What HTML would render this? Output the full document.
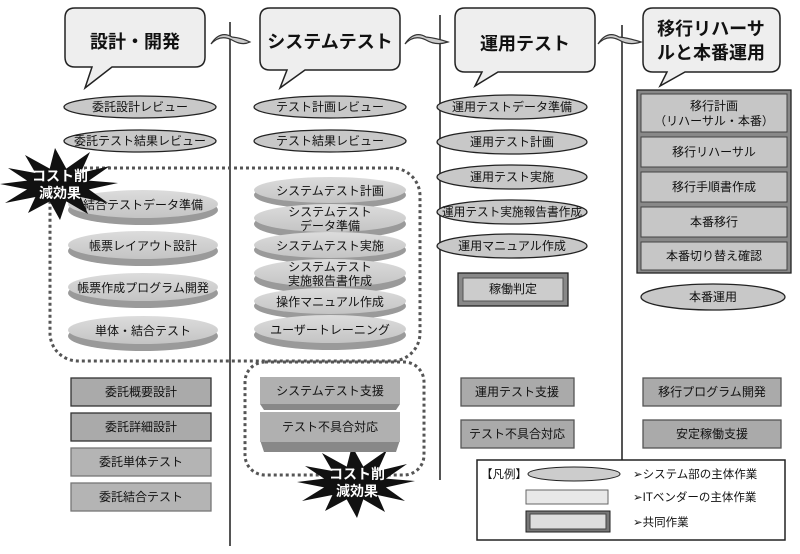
<!DOCTYPE html>
<html><head><meta charset="utf-8"><style>
body{margin:0;background:#fff}
svg{display:block}
text{font-family:"Liberation Sans","Noto Sans CJK JP",sans-serif;fill:#111;text-anchor:middle}
</style></head><body>
<svg width="800" height="554" viewBox="0 0 800 554" xmlns="http://www.w3.org/2000/svg">
<defs>
<linearGradient id="disk" x1="0" y1="0" x2="0" y2="1"><stop offset="0" stop-color="#dcdcdc"/><stop offset="1" stop-color="#c4c4c4"/></linearGradient>
<g id="star"><polygon fill="#111" points="118,183 88.9,189.4 108,203 80.6,197 88,214 66.3,201.4 60,220 49.7,201.4 28,213 35.4,197 5,203 27.1,189.4 0,184 27.1,180.6 8,168 35.4,173 25,155 49.7,168.6 55,148 66.3,168.6 90,152 80.6,173 110,166 88.9,180.6"/></g>
</defs>
<g stroke="#555" stroke-width="2">
<line x1="230" y1="22" x2="230" y2="546"/>
<line x1="440" y1="15" x2="440" y2="480"/>
<line x1="622" y1="25" x2="622" y2="480"/>
</g>
<g fill="#ccc" stroke="#333" stroke-width="1.2">
<path d="M211,44 Q220,34 232,40 Q242,46 250,42 Q242,38 232,37 Q220,30 211,44Z"/>
<path d="M405,44 Q414,34 426,40 Q436,46 448,42 Q436,38 426,37 Q414,30 405,44Z"/>
<path d="M598,44 Q607,34 619,40 Q629,46 641,42 Q629,38 619,37 Q607,30 598,44Z"/>
</g>
<g fill="#eee" stroke="#222" stroke-width="1.5">
<path d="M75,8 H195 Q205,8 205,18 V57 Q205,67 195,67 H112 L85,88 L92,67 H75 Q65,67 65,57 V18 Q65,8 75,8Z"/>
<path d="M270,8 H390 Q400,8 400,18 V60 Q400,70 390,70 H305 L280,88 L287,70 H270 Q260,70 260,60 V18 Q260,8 270,8Z"/>
<path d="M465,8 H585 Q595,8 595,18 V62 Q595,72 585,72 H498 L475,86 L482,72 H465 Q455,72 455,62 V18 Q455,8 465,8Z"/>
<path d="M653,8 H770 Q780,8 780,18 V62 Q780,72 770,72 H685 L660,86 L667,72 H653 Q643,72 643,62 V18 Q643,8 653,8Z"/>
</g>
<g font-size="18" font-weight="bold">
<text x="135" y="48">設計・開発</text>
<text x="330" y="48">システムテスト</text>
<text x="525" y="50">運用テスト</text>
<text x="711" y="35">移行リハーサ</text>
<text x="711" y="59">ルと本番運用</text>
</g>
<g fill="#c8c8c8" stroke="#222" stroke-width="1.3">
<ellipse cx="140" cy="107" rx="76" ry="11"/>
<ellipse cx="140" cy="141" rx="76" ry="11"/>
<ellipse cx="330" cy="107" rx="76" ry="11"/>
<ellipse cx="330" cy="141" rx="76" ry="11"/>
<ellipse cx="512" cy="107" rx="75" ry="12"/>
<ellipse cx="512" cy="142" rx="75" ry="12"/>
<ellipse cx="512" cy="177" rx="75" ry="12"/>
<ellipse cx="512" cy="212" rx="75" ry="12"/>
<ellipse cx="512" cy="246" rx="75" ry="12"/>
<ellipse cx="713" cy="297" rx="72" ry="13"/>
</g>
<g font-size="12">
<text x="140" y="111">委託設計レビュー</text>
<text x="140" y="145">委託テスト結果レビュー</text>
<text x="330" y="111">テスト計画レビュー</text>
<text x="330" y="145">テスト結果レビュー</text>
<text x="512" y="111">運用テストデータ準備</text>
<text x="512" y="146">運用テスト計画</text>
<text x="512" y="181">運用テスト実施</text>
<text x="512" y="216" textLength="140" lengthAdjust="spacingAndGlyphs">運用テスト実施報告書作成</text>
<text x="512" y="250">運用マニュアル作成</text>
<text x="713" y="301">本番運用</text>
</g>
<g fill="none" stroke="#555" stroke-width="3" stroke-dasharray="3,3">
<rect x="50" y="168" width="370" height="193" rx="28"/>
<rect x="245" y="362" width="179" height="113" rx="20"/>
</g>
<g>
<ellipse cx="143" cy="210" rx="75" ry="15" fill="#9a9a9a"/><ellipse cx="143" cy="204" rx="75" ry="14" fill="url(#disk)"/>
<ellipse cx="143" cy="251" rx="75" ry="15" fill="#9a9a9a"/><ellipse cx="143" cy="245" rx="75" ry="14" fill="url(#disk)"/>
<ellipse cx="143" cy="293" rx="75" ry="15" fill="#9a9a9a"/><ellipse cx="143" cy="287" rx="75" ry="14" fill="url(#disk)"/>
<ellipse cx="143" cy="336" rx="75" ry="15" fill="#9a9a9a"/><ellipse cx="143" cy="330" rx="75" ry="14" fill="url(#disk)"/>
</g>
<g>
<ellipse cx="330" cy="195" rx="76" ry="14" fill="#9a9a9a"/><ellipse cx="330" cy="190" rx="76" ry="13" fill="url(#disk)"/>
<ellipse cx="330" cy="224" rx="76" ry="15" fill="#9a9a9a"/><ellipse cx="330" cy="218" rx="76" ry="14" fill="url(#disk)"/>
<ellipse cx="330" cy="250" rx="76" ry="14" fill="#9a9a9a"/><ellipse cx="330" cy="245" rx="76" ry="13" fill="url(#disk)"/>
<ellipse cx="330" cy="279" rx="76" ry="15" fill="#9a9a9a"/><ellipse cx="330" cy="273" rx="76" ry="14" fill="url(#disk)"/>
<ellipse cx="330" cy="306" rx="76" ry="14" fill="#9a9a9a"/><ellipse cx="330" cy="301" rx="76" ry="13" fill="url(#disk)"/>
<ellipse cx="330" cy="335" rx="76" ry="15" fill="#9a9a9a"/><ellipse cx="330" cy="329" rx="76" ry="14" fill="url(#disk)"/>
</g>
<g font-size="12">
<text x="143" y="209">結合テストデータ準備</text>
<text x="143" y="250">帳票レイアウト設計</text>
<text x="143" y="292">帳票作成プログラム開発</text>
<text x="143" y="335">単体・結合テスト</text>
<text x="330" y="195">システムテスト計画</text>
<text x="330" y="216">システムテスト</text>
<text x="330" y="230">データ準備</text>
<text x="330" y="250">システムテスト実施</text>
<text x="330" y="271">システムテスト</text>
<text x="330" y="285">実施報告書作成</text>
<text x="330" y="306">操作マニュアル作成</text>
<text x="330" y="334">ユーザートレーニング</text>
</g>
<use href="#star"/>
<use href="#star" transform="translate(297,298)"/>
<g font-size="14" font-weight="bold">
<text x="60" y="181" style="fill:#fff">コスト削</text>
<text x="60" y="198" style="fill:#fff">減効果</text>
<text x="357" y="479" style="fill:#fff">コスト削</text>
<text x="357" y="496" style="fill:#fff">減効果</text>
</g>
<g stroke="#333" stroke-width="1.3">
<rect x="71" y="378" width="140" height="28" fill="#aaa"/>
<rect x="71" y="413" width="140" height="28" fill="#aaa"/>
<rect x="71" y="448" width="140" height="28" fill="#b4b4b4" stroke="#777"/>
<rect x="71" y="483" width="140" height="28" fill="#b4b4b4" stroke="#777"/>
<rect x="461" y="378" width="113" height="28" fill="#aaa" stroke="#555"/>
<rect x="461" y="420" width="113" height="28" fill="#aaa" stroke="#555"/>
<rect x="643" y="378" width="138" height="28" fill="#aaa" stroke="#555"/>
<rect x="643" y="420" width="138" height="28" fill="#aaa" stroke="#555"/>
</g>
<g>
<polygon points="260,377 400,377 400,404 396,410 264,410 260,404" fill="#888"/>
<rect x="260" y="377" width="140" height="27" fill="#b0b0b0"/>
<polygon points="260,412 400,412 400,440 396,452 264,452 260,440" fill="#888"/>
<rect x="260" y="412" width="140" height="30" fill="#b0b0b0"/>
</g>
<g stroke="#222" stroke-width="1.3">
<rect x="458" y="273" width="110" height="33" fill="#888"/>
<rect x="463" y="278" width="100" height="23" fill="#ccc" stroke="#555" stroke-width="1"/>
<rect x="637" y="90" width="154" height="183" fill="#888"/>
</g>
<g fill="#c6c6c6" stroke="#444" stroke-width="1">
<rect x="641" y="94" width="146" height="38"/>
<rect x="641" y="137" width="146" height="30"/>
<rect x="641" y="172" width="146" height="30"/>
<rect x="641" y="207" width="146" height="30"/>
<rect x="641" y="242" width="146" height="28"/>
</g>
<g font-size="12">
<text x="141" y="396">委託概要設計</text>
<text x="141" y="431">委託詳細設計</text>
<text x="141" y="466">委託単体テスト</text>
<text x="141" y="501">委託結合テスト</text>
<text x="330" y="395">システムテスト支援</text>
<text x="330" y="431">テスト不具合対応</text>
<text x="517" y="396">運用テスト支援</text>
<text x="517" y="438">テスト不具合対応</text>
<text x="712" y="396">移行プログラム開発</text>
<text x="712" y="438">安定稼働支援</text>
<text x="513" y="293">稼働判定</text>
<text x="714" y="110">移行計画</text>
<text x="714" y="125">（リハーサル・本番）</text>
<text x="714" y="156">移行リハーサル</text>
<text x="714" y="191">移行手順書作成</text>
<text x="714" y="226">本番移行</text>
<text x="714" y="260">本番切り替え確認</text>
</g>
<rect x="477" y="460" width="308" height="80" fill="#fff" stroke="#222" stroke-width="1.5"/>
<ellipse cx="574" cy="474" rx="46" ry="7" fill="#ccc" stroke="#222"/>
<rect x="526" y="490" width="82" height="14" fill="#e8e8e8" stroke="#666"/>
<rect x="526" y="511" width="84" height="21" fill="#777" stroke="#222"/>
<rect x="530" y="514" width="76" height="15" fill="#ddd" stroke="#444"/>
<g font-size="11.5">
<text x="481" y="478" style="text-anchor:start">【凡例】</text>
<text x="633" y="478" style="text-anchor:start">➢システム部の主体作業</text>
<text x="633" y="501" style="text-anchor:start">➢ITベンダーの主体作業</text>
<text x="633" y="526" style="text-anchor:start">➢共同作業</text>
</g>
</svg>
</body></html>
